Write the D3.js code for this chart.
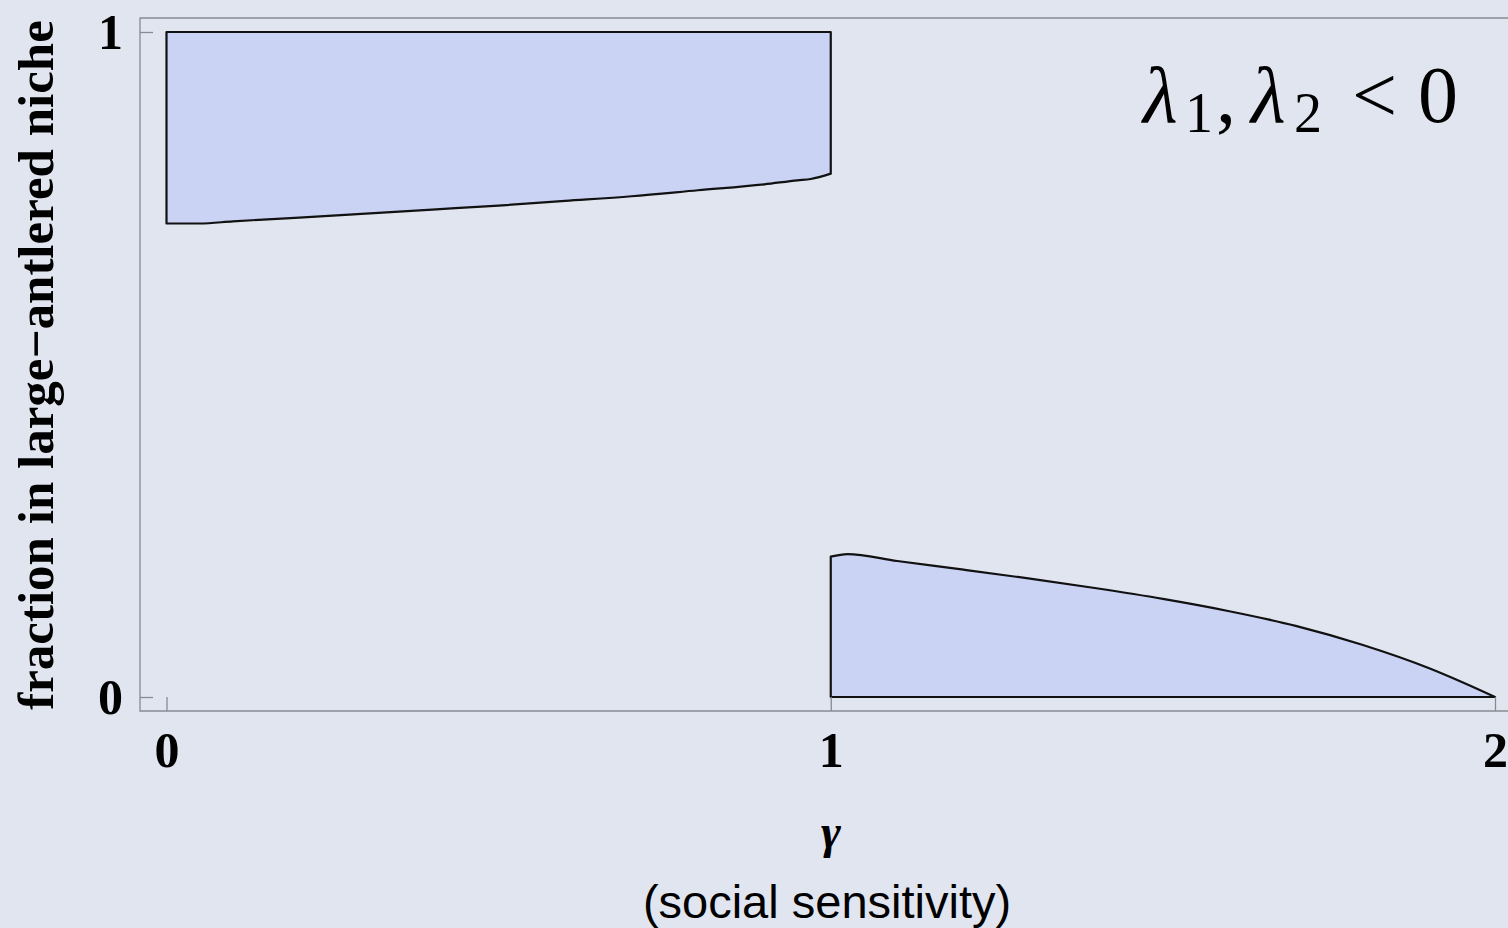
<!DOCTYPE html>
<html>
<head>
<meta charset="utf-8">
<script src="https://cdn.jsdelivr.net/npm/d3@7"></script>
<style>
  html, body { margin: 0; padding: 0; background: #e1e5ef; }
  svg { display: block; }
</style>
</head>
<body>
<svg id="chart" width="1508" height="928"></svg>
<script>
// Region where 0 < gamma < 1: upper boundary is 1, lower boundary is this curve
const upperGamma = [0, 0.05, 0.1, 0.2, 0.3, 0.4, 0.5, 0.6, 0.7, 0.8, 0.9, 0.95, 0.97, 1.0];
const upperLow   = [0.712, 0.712, 0.7153, 0.721, 0.727, 0.733, 0.739, 0.746, 0.753, 0.762, 0.771, 0.777, 0.779, 0.787];
const upperHigh  = 1;

// Region where 1 < gamma < 2: lower boundary is 0, upper boundary is this curve
const lowerGamma = [1.0, 1.025, 1.1, 1.2, 1.3, 1.4, 1.5, 1.6, 1.7, 1.8, 1.9, 1.95, 2.0];
const lowerHigh  = [0.211, 0.215, 0.2045, 0.1915, 0.178, 0.1635, 0.1475, 0.129, 0.107, 0.0785, 0.0435, 0.0225, 0];
const lowerLow   = 0;

const xTicks = [0, 1, 2];
const yTicks = [0, 1];

const svg = d3.select("#chart");

const x = d3.scaleLinear().domain([0, 2]).range([166.5, 1495]);
const y = d3.scaleLinear().domain([0, 1]).range([697, 32]);

const frameColor = "#868a94";

// plot frame (left, top, bottom)
svg.append("path")
  .attr("d", "M1508,18 H140 V711 H1508")
  .attr("fill", "none")
  .attr("stroke", frameColor)
  .attr("stroke-width", 1.3);

// shaded regions
const area = d3.area()
  .curve(d3.curveMonotoneX)
  .x(d => x(d.g))
  .y0(d => y(d.lo))
  .y1(d => y(d.hi));

const upperData = upperGamma.map((g, i) => ({ g, lo: upperLow[i], hi: upperHigh }));
const lowerData = lowerGamma.map((g, i) => ({ g, lo: lowerLow, hi: lowerHigh[i] }));

[upperData, lowerData].forEach(data => {
  svg.append("path")
    .datum(data)
    .attr("d", area)
    .attr("fill", "#cbd3f5")
    .attr("stroke", "#111")
    .attr("stroke-width", 2.2)
    .attr("stroke-linejoin", "round");
});

// axes
const tickFont = "'Liberation Serif', 'Times New Roman', serif";

const xAxis = svg.append("g")
  .attr("transform", "translate(0,711)")
  .call(d3.axisBottom(x).tickValues(xTicks).tickSize(-14).tickPadding(20).tickFormat(d3.format("d")));
xAxis.select(".domain").remove();
xAxis.selectAll(".tick line").attr("stroke", frameColor).attr("stroke-width", 1.3);
xAxis.selectAll(".tick text")
  .attr("fill", "#000")
  .style("font-family", tickFont)
  .style("font-weight", "bold")
  .style("font-size", "50px");

const yAxis = svg.append("g")
  .attr("transform", "translate(140,0)")
  .call(d3.axisLeft(y).tickValues(yTicks).tickSize(-13).tickPadding(17).tickFormat(d3.format("d")));
yAxis.select(".domain").remove();
yAxis.selectAll(".tick line").attr("stroke", frameColor).attr("stroke-width", 1.3);
yAxis.selectAll(".tick text")
  .attr("fill", "#000")
  .style("font-family", tickFont)
  .style("font-weight", "bold")
  .style("font-size", "50px");

// y-axis title
svg.append("text")
  .attr("transform", "translate(53,365) rotate(-90)")
  .attr("text-anchor", "middle")
  .style("font-family", tickFont)
  .style("font-weight", "bold")
  .style("font-size", "51px")
  .text("fraction in large\u2212antlered niche");

// x-axis title
svg.append("text")
  .attr("x", 831)
  .attr("y", 848)
  .attr("text-anchor", "middle")
  .style("font-family", tickFont)
  .style("font-style", "italic")
  .style("font-weight", "bold")
  .style("font-size", "48px")
  .text("\u03b3");

svg.append("text")
  .attr("x", 827)
  .attr("y", 918)
  .attr("text-anchor", "middle")
  .style("font-family", "'Liberation Sans', Arial, sans-serif")
  .style("font-size", "47px")
  .text("(social sensitivity)");

// regime annotation: lambda_1, lambda_2 < 0
const lam = svg.append("g")
  .style("font-family", tickFont)
  .attr("fill", "#000");
const mainSize = 80, subSize = 56, base = 122, subBase = 132;
lam.append("text").attr("x", 1143).attr("y", base).style("font-size", mainSize + "px").style("font-style", "italic").text("\u03bb");
lam.append("text").attr("x", 1185).attr("y", subBase).style("font-size", subSize + "px").text("1");
lam.append("text").attr("x", 1216).attr("y", base).style("font-size", mainSize + "px").text(",");
lam.append("text").attr("x", 1251).attr("y", base).style("font-size", mainSize + "px").style("font-style", "italic").text("\u03bb");
lam.append("text").attr("x", 1294).attr("y", subBase).style("font-size", subSize + "px").text("2");
lam.append("text").attr("x", 1352).attr("y", base).style("font-size", mainSize + "px").text("<");
lam.append("text").attr("x", 1418).attr("y", base).style("font-size", mainSize + "px").text("0");
</script>
</body>
</html>
